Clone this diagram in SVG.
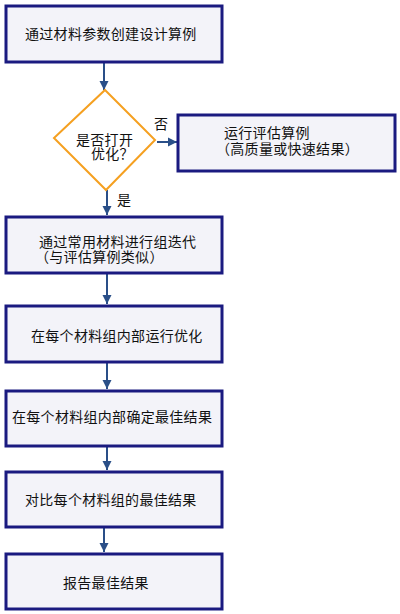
<svg xmlns="http://www.w3.org/2000/svg" width="400" height="614" viewBox="0 0 400 614">
<style>
.box{fill:#f3f3f9;stroke:#1a1a80;stroke-width:3}
.dia{fill:#ffffff;stroke:#f5a020;stroke-width:2}
.t{font-family:"Noto Sans CJK SC","Noto Sans",sans-serif;font-size:14px;fill:#111;letter-spacing:0.3px}
.c{stroke:#2a4f88;stroke-width:2;fill:none}
</style>
<defs>
<marker id="ah" markerWidth="10" markerHeight="10" refX="9" refY="5" orient="auto" markerUnits="userSpaceOnUse">
<path d="M0,0.5 L9,5 L0,9.5 Z" fill="#2a4f88"/>
</marker>
</defs>
<rect width="400" height="614" fill="#ffffff"/>
<g id="connectors">
<line class="c" x1="104" y1="63" x2="104" y2="90" marker-end="url(#ah)"/>
<line class="c" x1="157" y1="142" x2="177" y2="142" marker-end="url(#ah)"/>
<line class="c" x1="107" y1="190" x2="107" y2="215" marker-end="url(#ah)"/>
<line class="c" x1="107" y1="274" x2="107" y2="304" marker-end="url(#ah)"/>
<line class="c" x1="107" y1="363" x2="107" y2="389" marker-end="url(#ah)"/>
<line class="c" x1="107" y1="447" x2="107" y2="470" marker-end="url(#ah)"/>
<line class="c" x1="104" y1="528" x2="104" y2="552" marker-end="url(#ah)"/>
<text class="t" x="154" y="129">否</text>
<text class="t" x="117" y="205">是</text>
</g>
<g id="n1">
<rect class="box" x="6" y="6" width="216" height="56"/>
<text class="t" x="25" y="39">通过材料参数创建设计算例</text>
</g>
<g id="n2">
<polygon class="dia" points="105,90 155,140 106,190 54,138"/>
<text class="t"><tspan x="76" y="145">是否打开</tspan><tspan x="91" y="159">优化？</tspan></text>
</g>
<g id="n3">
<rect class="box" x="178" y="115" width="217" height="56"/>
<text class="t"><tspan x="224" y="138">运行评估算例</tspan><tspan x="216" y="154">（高质量或快速结果）</tspan></text>
</g>
<g id="n4">
<rect class="box" x="6" y="217" width="216" height="56"/>
<text class="t"><tspan x="39" y="247">通过常用材料进行组迭代</tspan><tspan x="35" y="262">（与评估算例类似）</tspan></text>
</g>
<g id="n5">
<rect class="box" x="6" y="306" width="216" height="56"/>
<text class="t" x="31" y="341">在每个材料组内部运行优化</text>
</g>
<g id="n6">
<rect class="box" x="6" y="391" width="216" height="55"/>
<text class="t" x="12" y="422">在每个材料组内部确定最佳结果</text>
</g>
<g id="n7">
<rect class="box" x="6" y="472" width="216" height="55"/>
<text class="t" x="25" y="505">对比每个材料组的最佳结果</text>
</g>
<g id="n8">
<rect class="box" x="6" y="554" width="216" height="55"/>
<text class="t" x="63" y="588">报告最佳结果</text>
</g>
</svg>
